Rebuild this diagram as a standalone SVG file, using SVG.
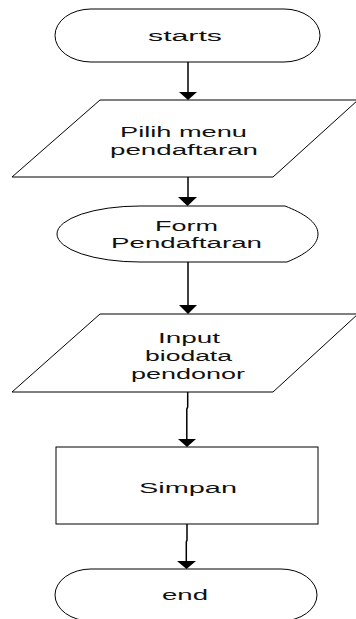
<svg xmlns="http://www.w3.org/2000/svg" width="356" height="619" viewBox="0 0 356 619">
<style>
.s{fill:#fff;stroke:#000;stroke-width:1}
.t{font-family:"Liberation Sans",Arial,sans-serif;font-size:15.5px;fill:#111}
.c{stroke:#000;stroke-width:1.5;fill:none}
.h{fill:#000;stroke:none}
</style>
<rect width="356" height="619" fill="#fff"/>
<g id="connectors">
<line class="c" x1="188" y1="62" x2="188" y2="93"/>
<polygon class="h" points="179,92 197,92 188,100"/>
<line class="c" x1="188" y1="177" x2="188" y2="198"/>
<polygon class="h" points="178,197 197,197 187.5,206"/>
<line class="c" x1="188" y1="262" x2="188" y2="306"/>
<polygon class="h" points="179,305 197,305 188,314"/>
<polyline class="c" points="187.7,392 187.7,407 186.8,409 186.8,440"/>
<polygon class="h" points="178,439 196,439 187,447"/>
<polyline class="c" points="187,524 187,540 186.3,542 186.3,562"/>
<polygon class="h" points="177,561 196,561 186.5,569"/>
</g>
<g id="start">
<rect class="s" x="55" y="9" width="265" height="53" rx="36" ry="26.5"/>
<text class="t" x="148" y="41" textLength="74" lengthAdjust="spacingAndGlyphs">starts</text>
</g>
<g id="pilih">
<polygon class="s" points="100,100 358,100 273,177 12,177"/>
<text class="t" x="120" y="137" textLength="127" lengthAdjust="spacingAndGlyphs">Pilih menu</text>
<text class="t" x="110" y="155" textLength="148" lengthAdjust="spacingAndGlyphs">pendaftaran</text>
</g>
<g id="form">
<path class="s" d="M140,206 L285,206 C303,213 318,222 318,234 C318,246 304,255 287,262 L140,262 A83,28 0 0 1 57,234 A83,28 0 0 1 140,206 Z"/>
<text class="t" x="155" y="231" textLength="63" lengthAdjust="spacingAndGlyphs">Form</text>
<text class="t" x="111" y="248" textLength="151" lengthAdjust="spacingAndGlyphs">Pendaftaran</text>
</g>
<g id="input">
<polygon class="s" points="100,314 358,314 273,392 12,392"/>
<text class="t" x="158" y="343" textLength="62" lengthAdjust="spacingAndGlyphs">Input</text>
<text class="t" x="145" y="361" textLength="87" lengthAdjust="spacingAndGlyphs">biodata</text>
<text class="t" x="131" y="379" textLength="114" lengthAdjust="spacingAndGlyphs">pendonor</text>
</g>
<g id="simpan">
<rect class="s" x="56" y="447" width="262" height="77"/>
<text class="t" x="139" y="493" textLength="98" lengthAdjust="spacingAndGlyphs">Simpan</text>
</g>
<g id="end">
<rect class="s" x="55" y="569" width="262" height="52" rx="36" ry="26"/>
<text class="t" x="162" y="600" textLength="46" lengthAdjust="spacingAndGlyphs">end</text>
</g>
</svg>
